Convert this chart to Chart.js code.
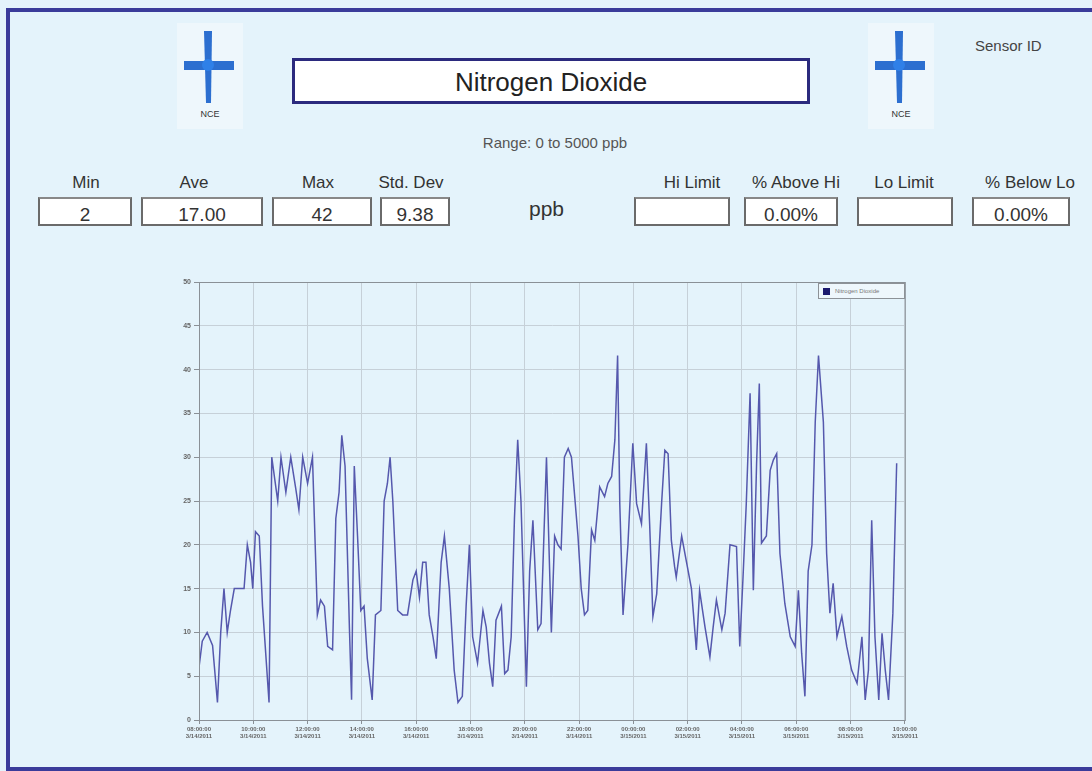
<!DOCTYPE html>
<html>
<head>
<meta charset="utf-8">
<title>Nitrogen Dioxide</title>
<script src="https://cdn.jsdelivr.net/npm/chart.js@4.4.1/dist/chart.umd.min.js"></script>
<style>
  html, body { margin: 0; padding: 0; }
  body {
    width: 1092px; height: 771px; overflow: hidden; position: relative;
    background: #e4f3fb; font-family: "Liberation Sans", Arial, sans-serif; color: #333;
  }
  .marco {
    position: absolute; left: 6px; top: 8px; width: 1100px; height: 755px;
    border: 4px solid #3a3b9a; border-right: none;
  }
  .icono { position: absolute; width: 66px; height: 106px; background: #eef7fc; }
  .titulo {
    position: absolute; left: 292px; top: 58px; width: 512px; height: 40px;
    background: #fff; border: 3px solid #2b2a7e; text-align: center;
    font-size: 26px; line-height: 42px; color: #222;
  }
  .rango { position: absolute; left: 400px; width: 310px; top: 134px; text-align: center; font-size: 15px; color: #555; }
  .sensor { position: absolute; left: 975px; top: 37px; font-size: 15px; color: #444; }
  .etiqueta { position: absolute; top: 173px; font-size: 17px; text-align: center; color: #333; white-space: nowrap; }
  .caja {
    position: absolute; top: 197px; height: 25px; background: #fff;
    border: 2px solid #6a6a6a; border-top-color: #888; text-align: center;
    font-size: 19px; line-height: 31px; color: #333; box-sizing: content-box; overflow: hidden;
  }
  .unidad { position: absolute; left: 529px; top: 197px; font-size: 21px; color: #333; }
  #contenedor { position: absolute; left: 150px; top: 262px; width: 770px; height: 490px; }
  .leyenda {
    position: absolute; left: 818px; top: 283px; width: 87px; height: 16px;
    border: 1px solid #8d9297; background: #eef7fc; font-size: 6px; color: #777;
    display: flex; align-items: center; box-sizing: border-box;
  }
  .leyenda span.cuadro { width: 7px; height: 7px; background: #1b1a6e; margin: 0 5px 0 4px; }
</style>
</head>
<body>
<div class="marco"></div>

<div class="icono" style="left:177px; top:23px;">
  <svg width="66" height="106">
    <polygon points="27,8 35,8 34,80 29,80" fill="#2c6fd0"/>
    <rect x="7" y="38" width="50" height="9" fill="#2c6fd0"/>
    <circle cx="31" cy="42" r="6" fill="#2f80e8"/>
    <text x="33" y="94" font-size="9" text-anchor="middle" fill="#333" font-family="Liberation Sans">NCE</text>
  </svg>
</div>
<div class="icono" style="left:868px; top:23px;">
  <svg width="66" height="106">
    <polygon points="27,8 35,8 34,80 29,80" fill="#2c6fd0"/>
    <rect x="7" y="38" width="50" height="9" fill="#2c6fd0"/>
    <circle cx="31" cy="42" r="6" fill="#2f80e8"/>
    <text x="33" y="94" font-size="9" text-anchor="middle" fill="#333" font-family="Liberation Sans">NCE</text>
  </svg>
</div>

<div class="titulo">Nitrogen Dioxide</div>
<div class="rango">Range: 0 to 5000 ppb</div>
<div class="sensor">Sensor ID</div>
<div class="unidad">ppb</div>
<div id="estadisticas"></div>

<div id="contenedor"><canvas id="graficaNO2"></canvas></div>
<div class="leyenda"><span class="cuadro"></span>Nitrogen Dioxide</div>

<script>
/* ---------- datos ---------- */

// horas transcurridas desde el inicio de la medición
const horasMuestra = [
  0.00, 0.12, 0.30, 0.50, 0.68, 0.80, 0.92, 1.04, 1.16, 1.30,
  1.66, 1.78, 1.90, 1.98, 2.08, 2.22, 2.34, 2.58, 2.68, 2.90,
  3.02, 3.20, 3.38, 3.56, 3.68, 3.82, 4.00, 4.18, 4.30, 4.36,
  4.48, 4.62, 4.74, 4.92, 5.04, 5.16, 5.26, 5.38, 5.54, 5.62,
  5.72, 5.84, 5.96, 6.08, 6.20, 6.38, 6.50, 6.70, 6.82, 6.94,
  7.04, 7.14, 7.32, 7.50, 7.68, 7.88, 8.00, 8.12, 8.24, 8.36,
  8.48, 8.62, 8.74, 8.92, 9.04, 9.22, 9.40, 9.54, 9.70, 9.84,
  9.96, 10.08, 10.26, 10.46, 10.58, 10.70, 10.82, 10.94, 11.14, 11.26,
  11.38, 11.50, 11.62, 11.74, 11.86, 12.06, 12.18, 12.30, 12.48, 12.60,
  12.80, 12.98, 13.10, 13.22, 13.34, 13.46, 13.60, 13.72, 13.84, 13.96,
  14.08, 14.20, 14.32, 14.46, 14.58, 14.76, 14.94, 15.06, 15.20, 15.32,
  15.42, 15.50, 15.62, 15.80, 15.98, 16.12, 16.30, 16.48, 16.60, 16.72,
  16.86, 17.04, 17.16, 17.28, 17.40, 17.52, 17.58, 17.78, 17.96, 18.14,
  18.32, 18.44, 18.64, 18.82, 18.94, 19.06, 19.26, 19.38, 19.56, 19.80,
  19.92, 20.04, 20.16, 20.30, 20.42, 20.54, 20.64, 20.72, 20.90, 21.04,
  21.16, 21.28, 21.40, 21.58, 21.78, 21.96, 22.08, 22.20, 22.32, 22.44,
  22.58, 22.70, 22.82, 23.00, 23.12, 23.24, 23.36, 23.50, 23.68, 23.86,
  24.04, 24.24, 24.42, 24.54, 24.66, 24.78, 24.90, 25.04, 25.16, 25.28,
  25.40, 25.56, 25.70
];

// concentración de NO2 (ppb)
const valoresNO2 = [
  6, 9, 10, 8.5, 2, 10, 15, 10, 12.5, 15,
  15, 20, 18, 15, 21.5, 21, 13, 2, 30, 25,
  30, 26, 30, 26.5, 24, 30, 27, 30, 18, 12,
  13.7, 13, 8.4, 8, 23, 26, 32.5, 29, 10.6, 2.3,
  29, 21, 12.5, 13, 7, 2.3, 12, 12.5, 25, 27,
  30, 25, 12.5, 12, 12, 16, 17, 14, 18, 18,
  12, 9.5, 7, 18, 21, 15, 5.7, 2, 2.7, 13,
  20, 9.5, 6.5, 12.5, 10.6, 6.5, 3.8, 11.4, 13, 5.3,
  5.7, 9.5, 23, 32, 25, 3.8, 17, 22.8, 10.3, 11,
  30, 10, 21, 20, 19.5, 30, 31, 30, 25.5, 21,
  15, 12, 12.5, 21.7, 20.5, 26.6, 25.5, 27, 27.8, 32,
  41.6, 24.7, 12, 20, 31.6, 24.7, 22.4, 31.6, 22.4, 11.8,
  14.4, 24.7, 30.8, 30.4, 20.5, 17.5, 16.3, 21, 18, 15,
  8, 14.8, 10.6, 7.2, 10.6, 13.7, 10.3, 12.2, 20, 19.8,
  8.4, 16.3, 24.7, 37.3, 14.8, 29.3, 38.4, 20.2, 21, 28.5,
  29.7, 30.4, 19, 13.3, 9.5, 8.4, 14.8, 7.6, 2.7, 17,
  20, 34, 41.6, 34, 19, 12.2, 15.6, 9.5, 11.8, 8.4,
  5.7, 4.2, 9.5, 2.3, 5.7, 22.8, 9.5, 2.3, 9.9, 5.7,
  2.3, 12.2, 29.3
];

// etiquetas del eje X (cada 2 horas)
const etiquetasHora = [
  '08:00:00', '10:00:00', '12:00:00', '14:00:00', '16:00:00', '18:00:00', '20:00:00',
  '22:00:00', '00:00:00', '02:00:00', '04:00:00', '06:00:00', '08:00:00', '10:00:00'
];
const etiquetasFecha = [
  '3/14/2011', '3/14/2011', '3/14/2011', '3/14/2011', '3/14/2011', '3/14/2011', '3/14/2011',
  '3/14/2011', '3/15/2011', '3/15/2011', '3/15/2011', '3/15/2011', '3/15/2011', '3/15/2011'
];

// resumen estadístico
const nombresEstadistica = ['Min', 'Ave', 'Max', 'Std. Dev', 'Hi Limit', '% Above Hi', 'Lo Limit', '% Below Lo'];
const valoresEstadistica = ['2', '17.00', '42', '9.38', '', '0.00%', '', '0.00%'];
const cajasX = [38, 141, 272, 380, 634, 744, 857, 972];
const cajasAncho = [90, 118, 96, 66, 92, 90, 92, 94];
const etiquetasCentro = [86, 194, 318, 411, 692, 796, 904, 1030];

/* ---------- cajas de estadísticas ---------- */
const zona = document.getElementById('estadisticas');
nombresEstadistica.forEach((nombre, i) => {
  zona.insertAdjacentHTML('beforeend',
    `<div class="etiqueta" style="left:${etiquetasCentro[i] - 60}px; width:120px;">${nombre}</div>` +
    `<div class="caja" style="left:${cajasX[i]}px; width:${cajasAncho[i]}px;">${valoresEstadistica[i]}</div>`);
});

/* ---------- gráfica ---------- */
const marcoGrafica = {
  id: 'marcoGrafica',
  afterDraw(chart) {
    const { ctx, chartArea: a } = chart;
    ctx.save();
    ctx.strokeStyle = '#8a9096';
    ctx.lineWidth = 1;
    ctx.strokeRect(a.left + 0.5, a.top + 0.5, a.right - a.left, a.bottom - a.top);
    ctx.restore();
  }
};

new Chart(document.getElementById('graficaNO2'), {
  type: 'line',
  data: {
    datasets: [{
      label: 'Nitrogen Dioxide',
      data: horasMuestra.map((h, i) => ({ x: h, y: valoresNO2[i] })),
      borderColor: '#5558ad',
      borderWidth: 1.5,
      pointRadius: 0,
      tension: 0,
      fill: false
    }]
  },
  options: {
    responsive: true,
    maintainAspectRatio: false,
    animation: false,
    layout: { padding: { top: 20, right: 14, bottom: 0, left: 0 } },
    plugins: { legend: { display: false }, tooltip: { enabled: false } },
    scales: {
      x: {
        type: 'linear',
        min: 0,
        max: 26,
        afterFit: (escala) => { escala.height = 32; },
        grid: { color: '#c6d0d8', tickLength: 4, tickColor: '#8a9096' },
        border: { color: '#8a9096' },
        ticks: {
          stepSize: 2,
          maxRotation: 0,
          autoSkip: false,
          padding: 2,
          color: '#666',
          font: { family: 'Liberation Sans', size: 6, weight: 'bold' },
          callback: (v) => {
            const k = Math.round(v / 2);
            return [etiquetasHora[k], etiquetasFecha[k]];
          }
        }
      },
      y: {
        min: 0,
        max: 50,
        afterFit: (escala) => { escala.width = 49; },
        grid: { color: '#c6d0d8', tickLength: 5, tickColor: '#8a9096' },
        border: { color: '#8a9096' },
        ticks: {
          stepSize: 5,
          padding: 3,
          color: '#666',
          font: { family: 'Liberation Sans', size: 7, weight: 'bold' }
        }
      }
    }
  },
  plugins: [marcoGrafica]
});
</script>
</body>
</html>
